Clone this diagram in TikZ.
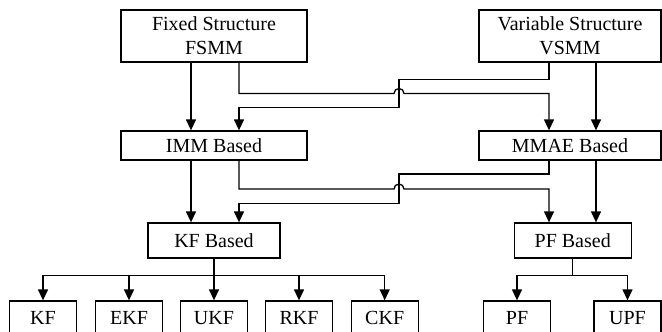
\documentclass[tikz,border=0pt]{standalone}
\usepackage{fontspec}
\setmainfont{Liberation Serif}
\usetikzlibrary{arrows.meta}
\begin{document}
\begin{tikzpicture}[x=1pt,y=-1pt,
  box/.style={draw,line width=1.3pt,inner sep=0pt,align=center,font=\fontsize{20}{24}\selectfont},
  arr/.style={line width=1.3pt,-{Triangle[length=11pt,width=10pt]}},
  ln/.style={line width=1.3pt}]
\useasboundingbox (0,0) rectangle (662,332);
\fill[white] (0,0) rectangle (662,332);
% top
\node[box,minimum width=186pt,minimum height=52pt] (fsmm) at (214,36) {Fixed Structure\\FSMM};
\node[box,minimum width=182pt,minimum height=52pt] (vsmm) at (570,36) {Variable Structure\\VSMM};
\node[box,minimum width=186pt,minimum height=29pt] (imm) at (214,145.5) {IMM Based};
\node[box,minimum width=182pt,minimum height=29pt] (mmae) at (570,145.5) {MMAE Based};
\node[box,minimum width=132pt,minimum height=35pt] (kfb) at (214,240.5) {KF Based};
\node[box,minimum width=117pt,minimum height=35pt] (pfb) at (572.7,240.5) {PF Based};
% leaves
\foreach \n/\x/\t in {kf/43/KF,ekf/129/EKF,ukf/214/UKF,rkf/299/RKF,ckf/384.7/CKF,pf/517/PF,upf/627.5/UPF}
  \node[box,minimum width=67pt,minimum height=34pt] (\n) at (\x,318) {\t};
% straight arrows
\draw[arr] ([xshift=-23pt]fsmm.south) -- ([xshift=-23pt]imm.north);
\draw[arr] ([xshift=26pt]vsmm.south) -- ([xshift=26pt]mmae.north);
\draw[arr] ([xshift=-23pt]imm.south) -- ([xshift=-23pt]kfb.north);
\draw[arr] ([xshift=26pt]mmae.south) -- ([xshift=23.3pt]pfb.north);
% crossing arrows, upper
\draw[arr] ([xshift=-21pt]vsmm.south) -- (549,79.5) -- (399,79.5) -- (399,107.7) -- (239,107.7) -- ([xshift=25pt]imm.north);
\draw[arr] ([xshift=25pt]fsmm.south) -- (239,93.5) -- (394,93.5) arc[start angle=180,end angle=0,radius=5pt] -- (549,93.5) -- ([xshift=-21pt]mmae.north);
% crossing arrows, lower
\draw[arr] ([xshift=-21pt]mmae.south) -- (549,174) -- (399,174) -- (399,203.3) -- (239,203.3) -- ([xshift=25pt]kfb.north);
\draw[arr] ([xshift=25pt]imm.south) -- (239,189) -- (394,189) arc[start angle=180,end angle=0,radius=5pt] -- (549,189) -- ([xshift=-23.7pt]pfb.north);
% buses
\coordinate (kbus) at (214,275.3);
\coordinate (pbus) at (572.7,275.3);
\draw[ln] (kfb.south) -- (kbus);
\draw[ln] (pfb.south) -- (pbus);
\foreach \n in {kf,ekf,ukf,rkf,ckf} \draw[arr] (kbus) -| (\n.north);
\foreach \n in {pf,upf} \draw[arr] (pbus) -| (\n.north);
\end{tikzpicture}
\end{document}
